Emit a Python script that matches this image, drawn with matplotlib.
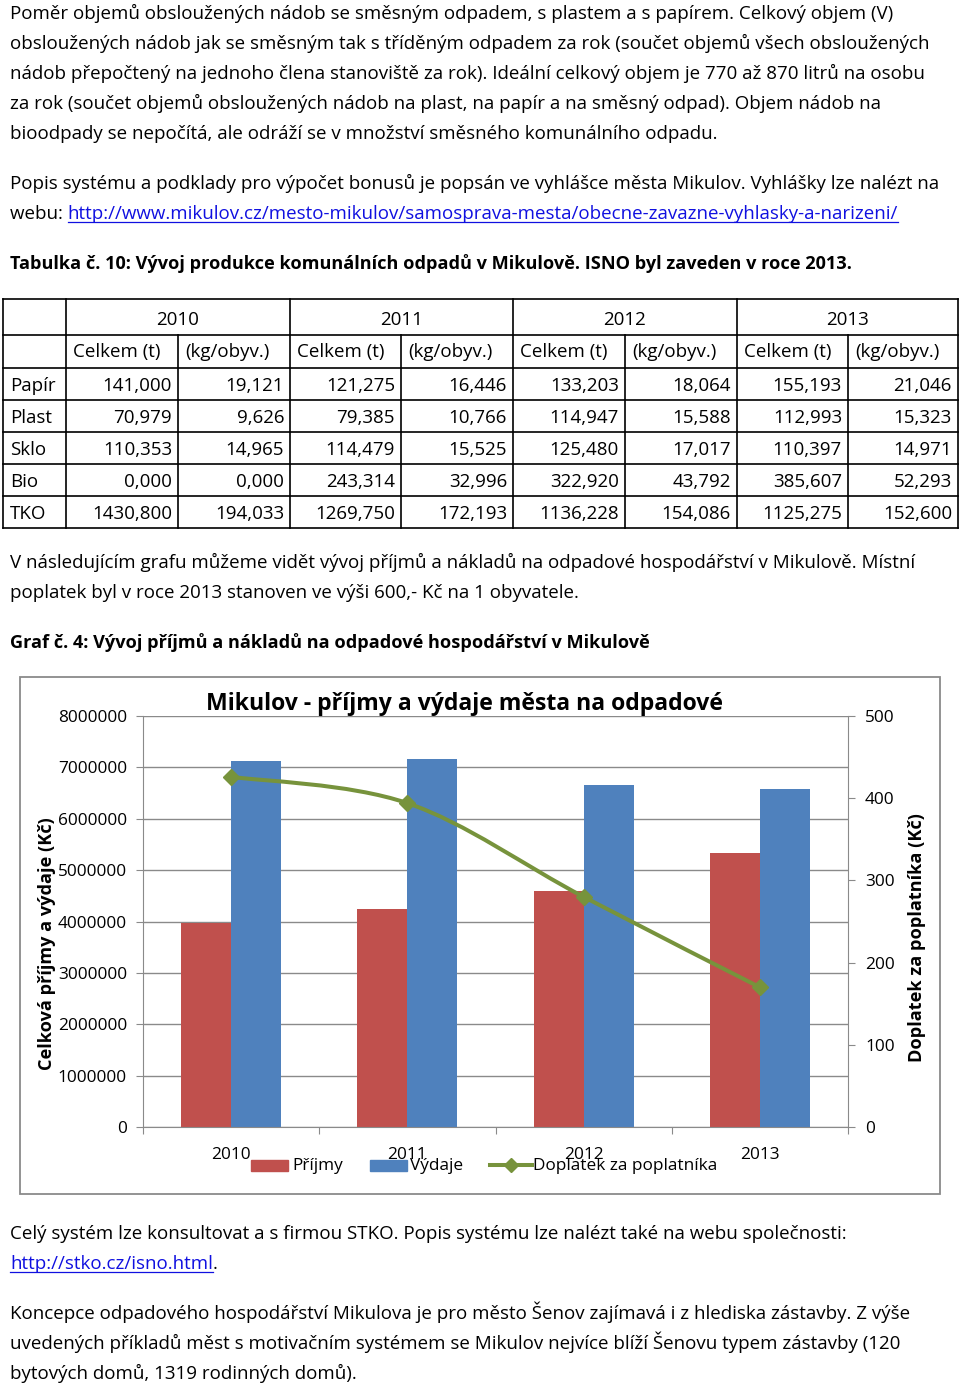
import numpy as np
import matplotlib
matplotlib.use('Agg')
import matplotlib.pyplot as plt
from matplotlib.path import Path
from matplotlib.patches import PathPatch, Rectangle
from matplotlib.lines import Line2D

# ---- data ----
odstavec_1 = [
    'Poměr objemů obsloužených nádob se směsným odpadem, s plastem a s papírem. Celkový objem (V)',
    'obsloužených nádob jak se směsným tak s tříděným odpadem za rok (součet objemů všech obsloužených',
    'nádob přepočtený na jednoho člena stanoviště za rok). Ideální celkový objem je 770 až 870 litrů na osobu',
    'za rok (součet objemů obsloužených nádob na plast, na papír a na směsný odpad). Objem nádob na',
    'bioodpady se nepočítá, ale odráží se v množství směsného komunálního odpadu.',
]
odstavec_2 = 'Popis systému a podklady pro výpočet bonusů je popsán ve vyhlášce města Mikulov. Vyhlášky lze nalézt na'
odkaz_1 = 'http://www.mikulov.cz/mesto-mikulov/samosprava-mesta/obecne-zavazne-vyhlasky-a-narizeni/'
tabulka_nadpis = 'Tabulka č. 10: Vývoj produkce komunálních odpadů v Mikulově. ISNO byl zaveden v roce 2013.'
odstavec_3 = [
    'V následujícím grafu můžeme vidět vývoj příjmů a nákladů na odpadové hospodářství v Mikulově. Místní',
    'poplatek byl v roce 2013 stanoven ve výši 600,- Kč na 1 obyvatele.',
]
graf_nadpis = 'Graf č. 4: Vývoj příjmů a nákladů na odpadové hospodářství v Mikulově'
odstavec_4 = 'Celý systém lze konsultovat a s firmou STKO. Popis systému lze nalézt také na webu společnosti:'
odkaz_2 = 'http://stko.cz/isno.html'
odstavec_5 = [
    'Koncepce odpadového hospodářství Mikulova je pro město Šenov zajímavá i z hlediska zástavby. Z výše',
    'uvedených příkladů měst s motivačním systémem se Mikulov nejvíce blíží Šenovu typem zástavby (120',
    'bytových domů, 1319 rodinných domů).',
]

tab_roky = ['2010', '2011', '2012', '2013']
tab_sloupce = ['Celkem (t)', '(kg/obyv.)']
tab_radky = ['Papír', 'Plast', 'Sklo', 'Bio', 'TKO']
papir = [141.000, 19.121, 121.275, 16.446, 133.203, 18.064, 155.193, 21.046]
plast = [70.979, 9.626, 79.385, 10.766, 114.947, 15.588, 112.993, 15.323]
sklo = [110.353, 14.965, 114.479, 15.525, 125.480, 17.017, 110.397, 14.971]
bio = [0.000, 0.000, 243.314, 32.996, 322.920, 43.792, 385.607, 52.293]
tko = [1430.800, 194.033, 1269.750, 172.193, 1136.228, 154.086, 1125.275, 152.600]

roky = ['2010', '2011', '2012', '2013']
prijmy = [3970000, 4250000, 4600000, 5330000]
vydaje = [7120000, 7160000, 6660000, 6570000]
doplatek = [426, 394, 280, 170]

# ---- layout ----
W, H = 960, 1384
FONT = ['Open Sans', 'DejaVu Sans']
RED, BLUE, GREEN = '#C0504D', '#4F81BD', '#77933C'
GRAY = '#8A8A8A'
LINK = '#1010E0'

fig = plt.figure(figsize=(W / 100, H / 100), dpi=100)
renderer = fig.canvas.get_renderer()

page = fig.add_axes([0, 0, 1, 1])
page.set_xlim(0, W)
page.set_ylim(H, 0)
page.axis('off')


def put(x, y, s, size, weight='normal', color='black', ha='left', va='baseline', ax=None, **kw):
    ax = ax or page
    return ax.text(x, y, s, fontsize=size, fontweight=weight, color=color,
                   ha=ha, va=va, family=FONT, **kw)


def width(s, size, weight='normal'):
    t = put(0, 0, s, size, weight)
    w = t.get_window_extent(renderer).width
    t.remove()
    return w


def fit(texts, targets, weight='normal'):
    return 20 * sum(targets) / sum(width(s, 20, weight) for s in texts)


# velikost písma podle délek řádků na stránce
body = fit(odstavec_1 + [odstavec_2], [882, 915, 917, 868, 704, 930])
bold = fit([tabulka_nadpis, graf_nadpis], [842, 635], 'bold')

for i, s in enumerate(odstavec_1):
    put(10, 19 + 30 * i, s, body)
put(10, 189, odstavec_2, body)
put(10, 219, 'webu: ', body)
x0 = 10 + width('webu: ', body)
put(x0, 219, odkaz_1, body, color=LINK)
page.plot([x0, x0 + width(odkaz_1, body)], [222, 222], color=LINK, lw=0.9)
put(10, 269, tabulka_nadpis, bold, weight='bold')

# ---- tabulka ----
col_x = [3, 66, 178, 290, 401, 513, 625, 737, 848, 958]
row_y = [299, 335, 368, 400, 432, 464, 496, 528]
for y in row_y:
    page.plot([col_x[0], col_x[-1]], [y, y], color='black', lw=1.2)
for i, x in enumerate(col_x):
    top = row_y[0] if i % 2 == 1 or i in (0, len(col_x) - 1) else row_y[1]
    page.plot([x, x], [top, row_y[-1]], color='black', lw=1.2)

for j, rok in enumerate(tab_roky):
    put((col_x[1 + 2 * j] + col_x[3 + 2 * j]) / 2, 325, rok, body, ha='center')
    for k, nazev in enumerate(tab_sloupce):
        put(col_x[1 + 2 * j + k] + 7, 357, nazev, body)

for r, (nazev, hodnoty) in enumerate(zip(tab_radky, [papir, plast, sklo, bio, tko])):
    yb = (row_y[2 + r] + row_y[3 + r]) / 2 + 7
    put(10, yb, nazev, body)
    for c, v in enumerate(hodnoty):
        put(col_x[c + 2] - 6, yb, f'{v:.3f}'.replace('.', ','), body, ha='right')

for i, s in enumerate(odstavec_3):
    put(10, 568 + 30 * i, s, body)
put(10, 648, graf_nadpis, bold, weight='bold')

put(10, 1239, odstavec_4, body)
put(10, 1269, odkaz_2, body, color=LINK)
w2 = width(odkaz_2, body)
page.plot([10, 10 + w2], [1272, 1272], color=LINK, lw=0.9)
put(10 + w2, 1269, '.', body)
for i, s in enumerate(odstavec_5):
    put(10, 1319 + 30 * i, s, body)

# ---- graf ----
chart = fit(['8000000'], [69])
title_size = fit(['Mikulov - příjmy a výdaje města na odpadové'], [519], 'bold')
label_size = fit(['Celková příjmy a výdaje (Kč)'], [252], 'bold')

L, R, T, B = 143, 848, 716, 1127
ax = fig.add_axes([L / W, 1 - B / H, (R - L) / W, (B - T) / H])
x = np.arange(len(roky)) + 0.5
bw = 0.284
ax.bar(x - bw / 2, prijmy, bw, color=RED, zorder=2)
ax.bar(x + bw / 2, vydaje, bw, color=BLUE, zorder=2)
ax.set_xlim(0, len(roky))
ax.set_ylim(0, 8000000)
ax.set_yticks(np.arange(0, 8000001, 1000000))
ax.set_yticklabels([f'{v:d}' for v in range(0, 8000001, 1000000)])
ax.yaxis.grid(True, color=GRAY, lw=1.0)
ax.set_axisbelow(True)
ax.set_xticks(np.arange(len(roky) + 1))
ax.set_xticklabels([])
ax.set_xticks(x, minor=True)
ax.set_xticklabels(roky, minor=True)
ax.tick_params(axis='x', which='major', length=5, color=GRAY, direction='out')
ax.tick_params(axis='x', which='minor', length=0, pad=14.5, labelsize=chart)
ax.tick_params(axis='y', length=5, color=GRAY, pad=6.5, labelsize=chart)
for side in ['top', 'right']:
    ax.spines[side].set_visible(False)
for side in ['left', 'bottom']:
    ax.spines[side].set_color(GRAY)
for lab in ax.get_xticklabels(minor=True) + ax.get_yticklabels():
    lab.set_family(FONT)

ax2 = ax.twinx()
ax2.set_ylim(0, 500)
ax2.set_yticks(np.arange(0, 501, 100))
ax2.tick_params(axis='y', length=5, color=GRAY, pad=7.2, labelsize=chart)
for side in ['top', 'left', 'bottom']:
    ax2.spines[side].set_visible(False)
ax2.spines['right'].set_color(GRAY)
for lab in ax2.get_yticklabels():
    lab.set_family(FONT)

# vyhlazená čára (Bezier přes body, jako "vyhlazená čára" v Excelu)
pts = np.column_stack([x, doplatek]).astype(float)
ext = np.vstack([pts[0], pts, pts[-1]])
verts, codes = [pts[0]], [Path.MOVETO]
for i in range(len(pts) - 1):
    c1 = ext[i + 1] + (ext[i + 2] - ext[i]) / 6
    c2 = ext[i + 2] - (ext[i + 3] - ext[i + 1]) / 6
    verts += [c1, c2, ext[i + 2]]
    codes += [Path.CURVE4] * 3
ax2.add_patch(PathPatch(Path(verts, codes), fill=False, edgecolor=GREEN, lw=2.9, zorder=3))
ax2.plot(x, doplatek, 'D', ls='none', color=GREEN, markersize=8, zorder=4)

# ---- rámeček, nadpis, popisky os, legenda ----
top = fig.add_axes([0, 0, 1, 1])
top.set_xlim(0, W)
top.set_ylim(H, 0)
top.axis('off')
top.add_patch(Rectangle((20, 677), 920, 517, fill=False, edgecolor=GRAY, lw=1.3))
put(465, 704, 'Mikulov - příjmy a výdaje města na odpadové', title_size, weight='bold',
    ha='center', va='center', ax=top)
put(47, 944, 'Celková příjmy a výdaje (Kč)', label_size, weight='bold',
    ha='center', va='center', rotation=90, ax=top)
put(917, 938, 'Doplatek za poplatníka (Kč)', label_size, weight='bold',
    ha='center', va='center', rotation=90, ax=top)

top.add_patch(Rectangle((251, 1160), 37, 11, color=RED))
put(292, 1166, 'Příjmy', chart, va='center', ax=top)
top.add_patch(Rectangle((370, 1160), 37, 11, color=BLUE))
put(410, 1166, 'Výdaje', chart, va='center', ax=top)
top.add_line(Line2D([490, 532], [1165, 1165], color=GREEN, lw=2.9))
top.add_line(Line2D([511], [1165], marker='D', color=GREEN, markersize=7))
put(533, 1166, 'Doplatek za poplatníka', chart, va='center', ax=top)

fig.savefig('out.png', dpi=100)
